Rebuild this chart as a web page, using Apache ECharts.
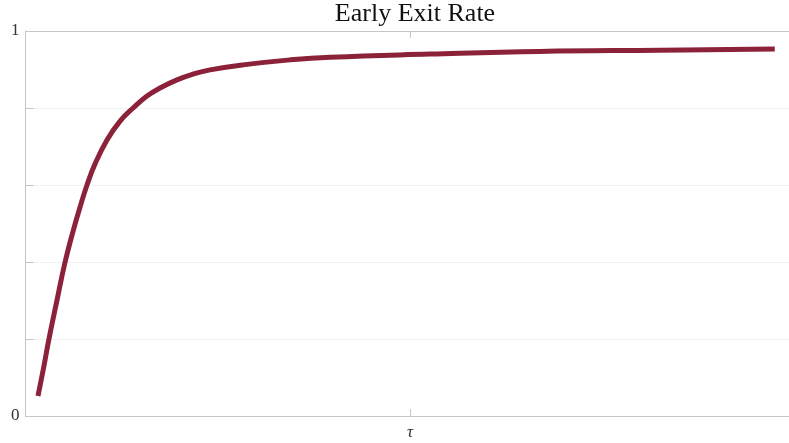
<!DOCTYPE html>
<html>
<head>
<meta charset="utf-8">
<script src="https://cdn.jsdelivr.net/npm/echarts@6/dist/echarts.min.js"></script>
<style>
  html, body { margin: 0; padding: 0; background: #fff; }
  #chart { width: 789px; height: 443px; }
</style>
</head>
<body>
<div id="chart"></div>
<script>
// Early exit rate as a function of tau (tau = 1 at the marked tick)
const tauValues = [0.0325, 0.048, 0.061, 0.082, 0.103, 0.124, 0.142, 0.160, 0.181, 0.212,
                   0.246, 0.280, 0.316, 0.350, 0.394, 0.436, 0.480, 0.566, 0.688, 0.792,
                   1.052, 1.338, 1.650, 1.949];
const exitRate = [0.052, 0.130, 0.200, 0.301, 0.400, 0.481, 0.543, 0.600, 0.655, 0.717,
                  0.766, 0.800, 0.831, 0.852, 0.873, 0.888, 0.899, 0.912, 0.925, 0.932,
                  0.940, 0.947, 0.950, 0.953];
const yTickLabels = { 0: '0', 1: '1' };
const xTickLabels = { 1: 'τ' };

const serif = '"Liberation Serif", "DejaVu Serif", serif';
const axisGray = '#c6c6c6';

const chart = echarts.init(document.getElementById('chart'), null, { renderer: 'canvas' });
chart.setOption({
  animation: false,
  title: {
    text: 'Early Exit Rate',
    left: 410,
    top: -4,
    textAlign: 'center',
    textStyle: { fontFamily: serif, fontWeight: 'normal', fontSize: 26, color: '#111' }
  },
  grid: { left: 25.5, right: 0, top: 31, bottom: 27, containLabel: false },
  xAxis: [{
    type: 'value', min: 0, max: 1.986, interval: 1,
    axisLine: { lineStyle: { color: axisGray } },
    axisTick: { inside: true, length: 7, lineStyle: { color: axisGray } },
    splitLine: { show: false },
    axisLabel: {
      showMaxLabel: false, margin: 8,
      formatter: v => xTickLabels[v] || '',
      fontFamily: serif, fontStyle: 'italic', fontSize: 17, color: '#333'
    }
  }, {
    type: 'value', position: 'top', min: 0, max: 1.986, interval: 1,
    axisLine: { show: true, lineStyle: { color: axisGray } },
    axisTick: { inside: true, length: 7, lineStyle: { color: axisGray } },
    splitLine: { show: false },
    axisLabel: { show: false }
  }],
  yAxis: {
    type: 'value', min: 0, max: 1, interval: 0.2,
    axisLine: { show: true, lineStyle: { color: axisGray } },
    axisTick: { show: true, inside: true, length: 8, lineStyle: { color: axisGray } },
    splitLine: { show: true, lineStyle: { color: '#f1f1f1', width: 1 } },
    axisLabel: {
      margin: 6,
      formatter: v => yTickLabels[v] || '',
      fontFamily: serif, fontSize: 17, color: '#333'
    }
  },
  series: [{
    type: 'line',
    xAxisIndex: 0,
    data: tauValues.map((t, i) => [t, exitRate[i]]),
    smooth: 0.45,
    showSymbol: false,
    lineStyle: { color: '#8c2239', width: 5, cap: 'butt', join: 'round' }
  }]
});
</script>
</body>
</html>
